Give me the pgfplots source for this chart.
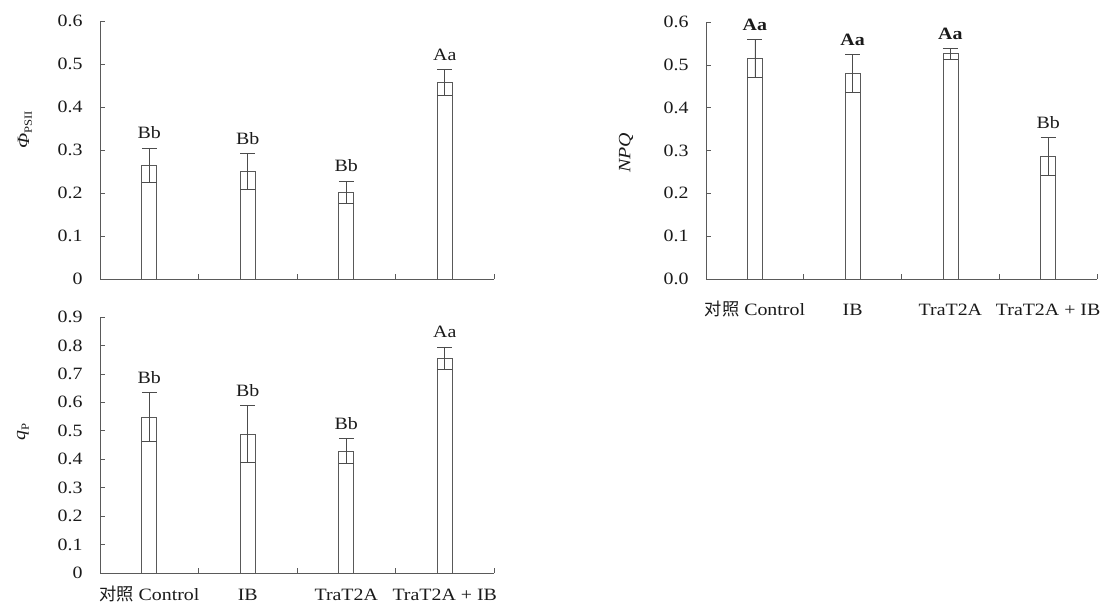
\documentclass[border=0pt]{standalone}
\usepackage{pgfplots}
\pgfplotsset{compat=1.18}
\usepackage{fontspec}
\setmainfont{Liberation Serif}[FakeStretch=1.15]
\newfontfamily\cjk{Noto Sans CJK SC}
\definecolor{axgray}{HTML}{5A5A5A}
\definecolor{txt}{HTML}{1A1A1A}
\pgfplotsset{
  base/.style={
    scale only axis, width=394pt,
    axis lines=left, axis line style={axgray,-},
    xmin=-0.5, xmax=3.5, ymin=0,
    xtick={0,1,2,3}, major x tick style={draw=none},
    minor xtick={0.5,1.5,2.5,3.5},
    tick align=inside, major tick length=5pt, minor tick length=5pt,
    tick style={axgray, line width=0.6pt},
    font=\fontsize{17.3}{20}\selectfont,
    /pgf/number format/assume math mode=true,
    text=txt,
    yticklabel style={xshift=-14pt},
    xticklabel style={yshift=-11pt, text height=13pt, text depth=4pt},
    ylabel style={anchor=center},
  },
  bars/.style={ybar, bar width=15pt, bar shift=0pt, fill=white, draw=black!65, line width=0.7pt,
    error bars/.cd, y dir=both, y explicit,
    error bar style={black!70, line width=0.6pt},
    error mark options={rotate=90, mark size=7.5pt, black!70, line width=0.6pt}},
  labs/.style={draw=none, mark=none, nodes near coords, point meta=explicit symbolic,
    every node near coord/.append style={anchor=base, yshift=9pt, inner sep=0pt, text=txt,
    font=\fontsize{17.3}{20}\selectfont}},
}
\begin{document}
\begin{tikzpicture}[x=1pt,y=1pt]
\useasboundingbox (0,0) rectangle (1107,-606);
% top-left: PhiPSII
\begin{axis}[base, at={(100pt,-279pt)}, anchor=south west, height=258pt,
  ymax=0.6, ytick={0,0.1,0.2,0.3,0.4,0.5,0.6},
  yticklabels={0,0.1,0.2,0.3,0.4,0.5,0.6},
  xticklabels={},
  ylabel={{\itshape Φ}\raisebox{-0.35ex}{\fontsize{11}{12}\selectfont PSII}},
  ylabel style={at={(axis description cs:0,0.578)}, yshift=75pt}]
\addplot[bars] coordinates {(0,0.265) +- (0,0.040) (1,0.251) +- (0,0.042) (2,0.202) +- (0,0.025) (3,0.458) +- (0,0.030)};
\addplot[labs] coordinates {(0,0.305) [Bb] (1,0.293) [Bb] (2,0.228) [Bb] (3,0.488) [Aa]};
\end{axis}
% bottom-left: qP
\begin{axis}[base, at={(100pt,-573pt)}, anchor=south west, height=256pt,
  ymax=0.9, ytick={0,0.1,0.2,0.3,0.4,0.5,0.6,0.7,0.8,0.9},
  yticklabels={0,0.1,0.2,0.3,0.4,0.5,0.6,0.7,0.8,0.9},
  xticklabels={{{\cjk 对照} Control},IB,TraT2A,TraT2A + IB},
  ylabel={{\itshape q}\raisebox{-0.45ex}{\fontsize{11}{12}\selectfont P}},
  ylabel style={at={(axis description cs:0,0.55)}, yshift=77pt}]
\addplot[bars] coordinates {(0,0.548) +- (0,0.086) (1,0.489) +- (0,0.100) (2,0.429) +- (0,0.045) (3,0.756) +- (0,0.039)};
\addplot[labs] coordinates {(0,0.634) [Bb] (1,0.589) [Bb] (2,0.474) [Bb] (3,0.795) [Aa]};
\end{axis}
% top-right: NPQ
\begin{axis}[base, at={(706pt,-279pt)}, anchor=south west, width=391pt, height=257pt,
  ymax=0.6, ytick={0,0.1,0.2,0.3,0.4,0.5,0.6},
  yticklabels={0.0,0.1,0.2,0.3,0.4,0.5,0.6},
  xticklabels={{{\cjk 对照} Control},IB,TraT2A,TraT2A + IB},
  xticklabel style={yshift=-9pt},
  ylabel={{\itshape NPQ}},
  ylabel style={at={(axis description cs:0,0.49)}, yshift=80pt}]
\addplot[bars] coordinates {(0,0.516) +- (0,0.044) (1,0.481) +- (0,0.044) (2,0.526) +- (0,0.012) (3,0.287) +- (0,0.044)};
\addplot[labs] coordinates {(0,0.560) [\bfseries Aa] (1,0.525) [\bfseries Aa] (2,0.538) [\bfseries Aa] (3,0.331) [Bb]};
\end{axis}
\end{tikzpicture}
\end{document}
